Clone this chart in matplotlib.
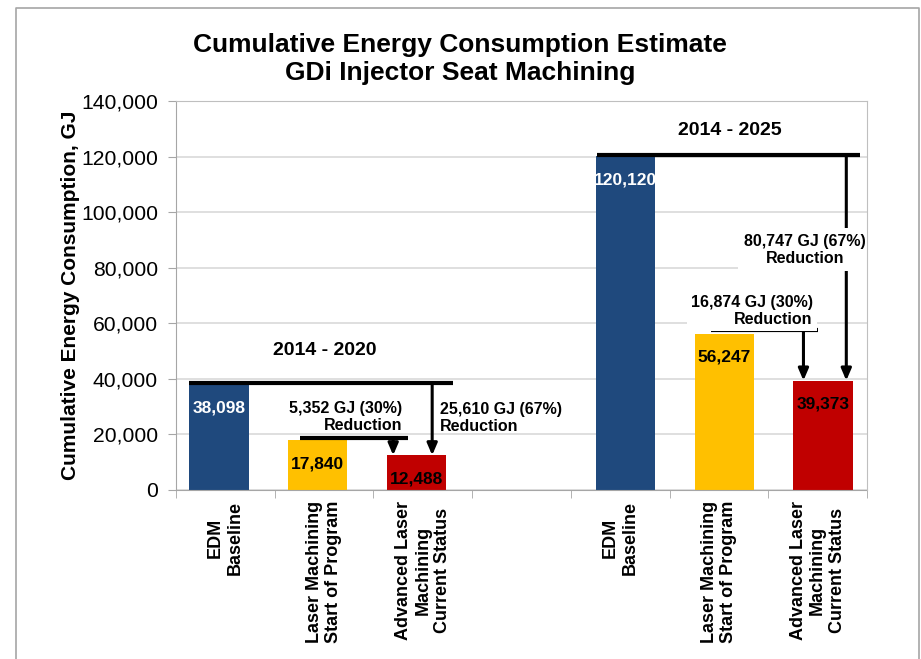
import numpy as np
import matplotlib
matplotlib.use("Agg")
import matplotlib.pyplot as plt
from matplotlib.lines import Line2D
from matplotlib.ticker import FuncFormatter, MultipleLocator

plt.rcParams['font.family'] = ['Liberation Sans', 'DejaVu Sans']

# categories along the x axis, slot 3 is left empty as a spacer
categories = ["EDM\nBaseline", "Laser Machining\nStart of Program",
              "Advanced Laser\nMachining\nCurrent Status", "",
              "EDM\nBaseline", "Laser Machining\nStart of Program",
              "Advanced Laser\nMachining\nCurrent Status"]
slots_2020 = [0, 1, 2]
slots_2025 = [4, 5, 6]
values_2020 = [38098, 17840, 12488]
values_2025 = [120120, 56247, 39373]
bar_colors = ["#1F497D", "#FFC000", "#C00000"]
label_colors = ["white", "black", "black"]

fig = plt.figure(figsize=(9.21, 6.59), dpi=100)
ax = fig.add_axes([0.1911, 0.2565, 0.7503, 0.5903])

# outer frame of the chart area (left, top, right edges)
frame_x = [16 / 921, 16 / 921, 919 / 921, 919 / 921]
frame_y = [0.0, 1 - 8 / 659, 1 - 8 / 659, 0.0]
fig.add_artist(Line2D(frame_x, frame_y, transform=fig.transFigure,
                      color="#A6A6A6", lw=1.2))

x20 = np.array(slots_2020) - 0.065
x25 = np.array(slots_2025) + 0.055
ax.bar(x20, values_2020, width=0.6, color=bar_colors, zorder=2)
ax.bar(x25, values_2025, width=0.6, color=bar_colors, zorder=2)

for xs, vals in ((x20, values_2020), (x25, values_2025)):
    for xi, v, c in zip(xs, vals, label_colors):
        ax.annotate(f"{v:,}", (xi, v), xytext=(0, -17), textcoords="offset points",
                    ha="center", va="center", fontsize=12.5, fontweight="bold",
                    color=c, zorder=4)

ax.set_xlim(-0.5, 6.5)
ax.set_ylim(0, 140000)
ax.yaxis.set_major_locator(MultipleLocator(20000))
ax.yaxis.set_major_formatter(FuncFormatter(lambda v, p: f"{int(v):,}"))
ax.grid(axis="y", color="#D9D9D9", lw=1.2, zorder=0)
ax.set_axisbelow(True)

ax.set_xticks(range(len(categories)))
ax.set_xticklabels(categories, rotation=90, ha="center", va="top",
                   multialignment="center", fontsize=13, fontweight="bold")
ax.set_xticks(np.arange(-0.5, 7.0, 1.0), minor=True)
ax.tick_params(axis="x", which="major", length=0, pad=8)
ax.tick_params(axis="x", which="minor", length=6, color="#A6A6A6")
ax.tick_params(axis="y", length=6, color="#A6A6A6", labelsize=15.2, pad=7)

for side in ("top", "right"):
    ax.spines[side].set_color("#BFBFBF")
    ax.spines[side].set_zorder(6)
for side in ("left", "bottom"):
    ax.spines[side].set_color("#A6A6A6")

ax.set_ylabel("Cumulative Energy Consumption, GJ", fontsize=15,
              fontweight="bold", labelpad=1)

fig.text(0.4995, 0.9110, "Cumulative Energy Consumption Estimate\nGDi Injector Seat Machining",
         ha="center", va="center", fontsize=19, fontweight="bold", linespacing=1.22)

line_kw = dict(color="black", lw=3, zorder=3, solid_capstyle="butt")
arrow_kw = dict(arrowstyle="-|>,head_length=0.7,head_width=0.3", color="black", lw=2.2,
                shrinkA=0, shrinkB=0)
text_kw = dict(fontsize=11.5, fontweight="bold", linespacing=1.15, zorder=5)

# 2014 - 2020 group
top20 = values_2020[0] + 400
ax.plot([-0.37, 2.31], [top20, top20], **line_kw)
ax.annotate("", xy=(2.095, values_2020[2]), xytext=(2.095, top20), arrowprops=arrow_kw, zorder=3)
ax.text(2.17, 25900, "25,610 GJ (67%)\nReduction", ha="left", va="center", **text_kw)

mid20 = values_2020[1] + 800
ax.plot([0.755, 1.85], [mid20, mid20], **line_kw)
ax.annotate("", xy=(1.70, values_2020[2]), xytext=(1.70, mid20), arrowprops=arrow_kw, zorder=3)
ax.text(1.79, 26300, "5,352 GJ (30%)\nReduction", ha="right", va="center",
        multialignment="right", **text_kw)

ax.text(1.01, 50300, "2014 - 2020", ha="center", va="center", fontsize=14, fontweight="bold")

# 2014 - 2025 group
top25 = values_2025[0] + 600
ax.plot([3.76, 6.43], [top25, top25], **line_kw)
ax.annotate("", xy=(6.29, values_2025[2]), xytext=(6.29, top25), arrowprops=arrow_kw, zorder=3)
ax.text(5.87, 86500, "80,747 GJ (67%)\nReduction", ha="center", va="center",
        bbox=dict(facecolor="white", edgecolor="none", pad=4), **text_kw)

mid25 = values_2025[1] + 1200
ax.plot([4.915, 6.0], [mid25, mid25], **line_kw)
ax.annotate("", xy=(5.856, values_2025[2]), xytext=(5.856, mid25), arrowprops=arrow_kw, zorder=3)
ax.text(5.95, 64400, "16,874 GJ (30%)\nReduction", ha="right", va="center",
        multialignment="right", bbox=dict(facecolor="white", edgecolor="none", pad=3), **text_kw)

ax.text(5.11, 129200, "2014 - 2025", ha="center", va="center", fontsize=14, fontweight="bold")

fig.savefig("out.png", dpi=100)
